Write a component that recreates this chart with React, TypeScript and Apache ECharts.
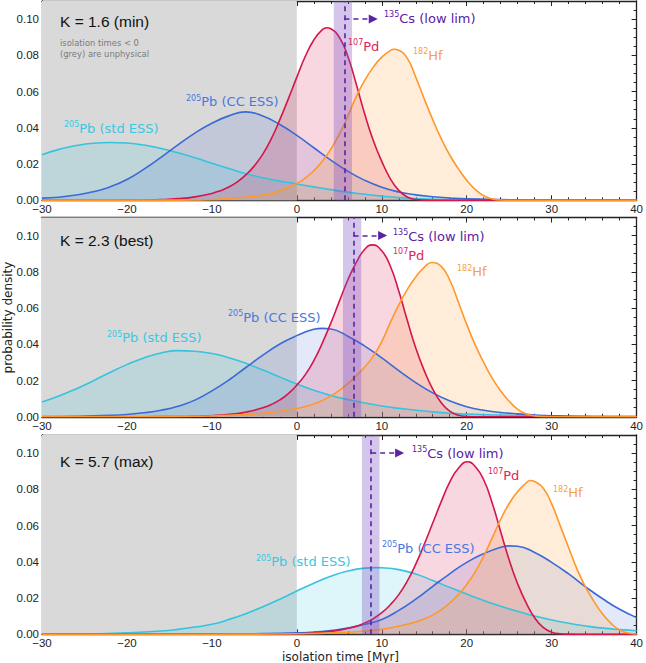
import React, { useEffect, useRef } from "react";
import * as echarts from "echarts";

// ---------- data ----------
const X_MIN = -30;
const X_MAX = 40;
const X_INTERVAL = 10;
const Y_MIN = 0;
const Y_MAX = 0.11;
const Y_INTERVAL = 0.02;

const PANEL_TITLES = ["K = 1.6 (min)", "K = 2.3 (best)", "K = 5.7 (max)"];

// 205Pb (std ESS)
const stdMin = [[-30,0.0252],[-28,0.0281],[-26,0.0302],[-24,0.0315],[-22,0.0319],[-20,0.0316],[-18,0.0305],[-16,0.0286],[-14,0.0262],[-12,0.0235],[-10,0.0205],[-8,0.0175],[-6,0.0147],[-4,0.0124],[-2,0.0106],[0,0.009],[2,0.0074],[4,0.0059],[6,0.0045],[8,0.0033],[10,0.0023],[12,0.0015],[14,0.001],[16,0.0006],[20,0.0003],[25,0.0001],[30,0],[40,0]];
const stdBest = [[-30,0.0082],[-28,0.0115],[-26,0.0154],[-24,0.0198],[-22,0.0245],[-20,0.0288],[-18,0.0325],[-16,0.0352],[-14,0.0365],[-12,0.0362],[-10,0.0349],[-8,0.0326],[-6,0.0295],[-4,0.0258],[-2,0.0219],[0,0.0181],[2,0.0146],[4,0.0118],[6,0.0095],[8,0.0076],[10,0.006],[12,0.0047],[14,0.0036],[16,0.0027],[18,0.002],[20,0.0015],[24,0.0009],[28,0.0005],[32,0.0003],[40,0.0001]];
const stdMax = [[-30,0],[-25,0.0001],[-20,0.0008],[-16,0.0018],[-14,0.0027],[-12,0.004],[-10,0.0055],[-8,0.0082],[-6,0.0114],[-4,0.0152],[-2,0.0194],[0,0.0239],[2,0.0282],[4,0.032],[6,0.0349],[8,0.0365],[9.3,0.0368],[10,0.0367],[12,0.0357],[14,0.0333],[16,0.0297],[18,0.0259],[20,0.0222],[22,0.0187],[24,0.0155],[26,0.0127],[28,0.0101],[30,0.0079],[32,0.0061],[34,0.0046],[36,0.0034],[38,0.0026],[40,0.002]];

// 205Pb (CC ESS)
const ccMin = [[-30,0.0012],[-28,0.0017],[-26,0.0029],[-24,0.0047],[-22,0.0074],[-20,0.0115],[-18,0.0172],[-16,0.0237],[-14,0.0306],[-12,0.0371],[-10,0.0425],[-8,0.0466],[-6,0.0488],[-4,0.0465],[-2,0.0418],[0,0.0358],[2,0.029],[4,0.0222],[6,0.016],[8,0.011],[10,0.0072],[12,0.0046],[14,0.003],[16,0.002],[18,0.0013],[20,0.0008],[24,0.0004],[30,0.0001],[40,0]];
const ccBest = [[-30,0.0001],[-26,0.0003],[-22,0.0008],[-20,0.0013],[-18,0.0022],[-16,0.0036],[-14,0.0058],[-12,0.0092],[-10,0.0143],[-8,0.0203],[-6,0.0272],[-4,0.034],[-2,0.0402],[0,0.0448],[2,0.0483],[3,0.0488],[4,0.0485],[6,0.0445],[8,0.039],[10,0.0325],[12,0.0255],[14,0.0189],[16,0.0132],[18,0.0088],[20,0.0056],[22,0.0036],[24,0.0024],[26,0.0016],[28,0.001],[30,0.0006],[35,0.0002],[40,0.0001]];
const ccMax = [[-30,0],[-10,0.0001],[-4,0.0004],[0,0.0008],[2,0.0012],[4,0.0021],[6,0.0034],[8,0.0055],[10,0.0082],[12,0.0132],[14,0.0194],[16,0.0265],[18,0.0334],[20,0.0397],[22,0.0445],[24,0.048],[25,0.0488],[26,0.0486],[28,0.0452],[30,0.0397],[32,0.0333],[34,0.0262],[36,0.0196],[38,0.0138],[40,0.0092]];

// 107Pd
const pdMin = [[-30,0],[-24,0],[-20,0.0001],[-18,0.0002],[-16,0.0004],[-14,0.0009],[-12,0.0019],[-10,0.0038],[-9,0.0053],[-8,0.0073],[-7,0.0102],[-6,0.014],[-5,0.019],[-4,0.0255],[-3,0.034],[-2,0.0445],[-1,0.056],[0,0.068],[1,0.0795],[2,0.0885],[3,0.0942],[3.55,0.0952],[4,0.0947],[5,0.09],[6,0.0795],[7,0.064],[8,0.0475],[9,0.033],[10,0.0215],[11,0.012],[12,0.0055],[13,0.0018],[14,0.0004],[15,0.0001],[17,0],[40,0]];
const pdBest = [[-30,0],[-20,0],[-16,0.0001],[-13,0.0002],[-11,0.0004],[-9,0.0009],[-7,0.0018],[-6,0.0026],[-5,0.0036],[-4,0.005],[-3,0.0068],[-2,0.0093],[-1,0.0128],[0,0.0175],[1,0.0233],[2,0.031],[3,0.0407],[4,0.0517],[5,0.0637],[6,0.0755],[7,0.0852],[8,0.0925],[8.9,0.0949],[10,0.0916],[11,0.0832],[12,0.0694],[13,0.0533],[14,0.038],[15,0.0255],[16,0.0153],[17,0.0078],[18,0.0031],[19,0.0009],[20,0.0002],[22,0],[40,0]];
const pdMax = [[-30,0],[-10,0],[-4,0.0001],[0,0.0003],[2,0.0008],[4,0.0016],[5,0.0023],[6,0.0033],[7,0.0045],[8,0.0063],[9,0.0086],[10,0.0119],[11,0.0163],[12,0.0219],[13,0.0293],[14,0.0387],[15,0.0497],[16,0.0614],[17,0.0732],[18,0.084],[19,0.0915],[20.1,0.0952],[21,0.0926],[22,0.0853],[23,0.0725],[24,0.0566],[25,0.041],[26,0.0278],[27,0.0173],[28,0.0091],[29,0.0038],[30,0.0012],[31,0.0003],[32,0.0001],[34,0],[40,0]];

// 182Hf
const hfMin = [[-30,0],[-16,0.0001],[-12,0.0002],[-10,0.0004],[-8,0.001],[-6,0.0018],[-4,0.0029],[-2,0.0052],[0,0.0093],[1,0.0123],[2,0.0163],[3,0.0215],[4,0.0282],[5,0.0365],[6,0.0465],[7,0.0572],[8,0.0663],[9,0.0735],[10,0.079],[11,0.0826],[11.4,0.0834],[12,0.0828],[13,0.0785],[14,0.068],[15,0.056],[16,0.0445],[17,0.034],[18,0.025],[19,0.0175],[20,0.011],[21,0.006],[22,0.0025],[23,0.0008],[24,0.0002],[26,0],[40,0]];
const hfBest = [[-30,0],[-16,0.0001],[-12,0.0003],[-10,0.0005],[-8,0.0008],[-6,0.0012],[-4,0.002],[-2,0.0031],[0,0.0046],[1,0.0057],[2,0.0071],[3,0.009],[4,0.0115],[5,0.0146],[6,0.0183],[7,0.0228],[8,0.0275],[9,0.0335],[10,0.0415],[11,0.052],[12,0.0618],[13,0.0702],[14,0.0772],[15,0.0825],[15.9,0.0852],[17,0.083],[18,0.0755],[19,0.0635],[20,0.051],[21,0.0397],[22,0.03],[23,0.0213],[24,0.0142],[25,0.0086],[26,0.0041],[27,0.0015],[28,0.0005],[29,0.0001],[31,0],[40,0]];
const hfMax = [[-30,0],[-10,0],[0,0.0003],[5,0.0009],[8,0.0018],[10,0.0028],[12,0.0045],[14,0.0068],[15,0.0085],[16,0.0106],[17,0.0135],[18,0.0172],[19,0.0218],[20,0.0275],[21,0.0345],[22,0.0432],[23,0.0532],[24,0.0635],[25,0.0722],[26,0.0788],[27,0.0835],[27.45,0.0849],[28,0.0843],[29,0.0808],[30,0.072],[31,0.06],[32,0.0478],[33,0.0358],[34,0.026],[35,0.018],[36,0.0112],[37,0.006],[38,0.0024],[39,0.0007],[40,0.0002]];

// 135Cs lower limit: dashed line, uncertainty band, arrow end
const csLine = [5.6, 6.68, 8.75];
const csBandLow = [4.35, 5.43, 7.66];
const csBandHigh = [6.5, 7.58, 9.73];
const csArrowEnd = [9.0, 10.1, 12.1];
const csArrowY = 0.1;
const unphysical = [-30, 0];

const STD = [stdMin, stdBest, stdMax];
const CC = [ccMin, ccBest, ccMax];
const PD = [pdMin, pdBest, pdMax];
const HF = [hfMin, hfBest, hfMax];

// ---------- styling / layout ----------
const GRID_TOPS = [1, 217.5, 435];
const GRID_H = 199.3;
const AX = "#222";
const SANS = "DejaVu Sans";
const ARIAL = "Liberation Sans";

const C = {
  std: { line: "#35c3dd", fill: "rgba(60,200,222,0.24)", text: "#38c8e2" },
  cc: { line: "#3a6ad6", fill: "rgba(60,105,215,0.21)", text: "#4a78df" },
  pd: { line: "#d4164b", fill: "rgba(220,30,80,0.25)", text: "#e0245c" },
  hf: { line: "#ff982c", fill: "rgba(255,155,50,0.26)", text: "#f7a043" },
  cs: "#5b21a6",
};

// label positions [left px, centre y px] per panel
const LBL = [
  { std: [64, 128], cc: [186, 101.5], pd: [348, 46], hf: [413, 55], cs: [384, 18], k: [60, 21.5] },
  { std: [107, 337.5], cc: [228, 317], pd: [393, 255], hf: [457, 271.5], cs: [393, 236], k: [60, 240.5] },
  { std: [256, 561.5], cc: [382, 548], pd: [488, 475], hf: [553, 492.5], cs: [412, 453], k: [60, 461.5] },
];

function isoText(sup: string, main: string, color: string, pos: number[]) {
  return {
    type: "text",
    x: pos[0],
    y: pos[1],
    silent: true,
    z: 20,
    style: {
      text: `{s|${sup}}{m|${main}}`,
      align: "left",
      verticalAlign: "middle",
      rich: {
        s: { fontSize: 8, fontFamily: SANS, fill: color, verticalAlign: "top", lineHeight: 10 },
        m: { fontSize: 13, fontFamily: SANS, fill: color, lineHeight: 15 },
      },
    },
  };
}

function buildOption() {
  const grid: any[] = [];
  const xAxis: any[] = [];
  const yAxis: any[] = [];
  const series: any[] = [];
  const graphic: any[] = [];

  const tickCommon = {
    axisLine: { show: true, onZero: false, lineStyle: { color: AX, width: 1.3 } },
    axisTick: { show: true, inside: true, length: 5, lineStyle: { color: AX, width: 1 } },
    splitLine: { show: false },
  };

  for (let p = 0; p < 3; p++) {
    grid.push({ left: 42, right: 7, top: GRID_TOPS[p], height: GRID_H });
    const xBase = {
      ...tickCommon,
      type: "value",
      gridIndex: p,
      min: X_MIN,
      max: X_MAX,
      interval: X_INTERVAL,
      minorTick: { show: true, splitNumber: 5, length: 3, lineStyle: { color: AX, width: 1 } },
    };
    xAxis.push({
      ...xBase,
      position: "bottom",
      axisLabel: {
        show: true,
        margin: 3,
        fontSize: 11.5,
        fontFamily: ARIAL,
        color: AX,
        formatter: (v: number) => (v < 0 ? "\u2212" + Math.abs(v) : String(v)),
      },
    });
    xAxis.push({ ...xBase, position: "top", axisLabel: { show: false } });
    const yBase = {
      ...tickCommon,
      type: "value",
      gridIndex: p,
      min: Y_MIN,
      max: Y_MAX,
      interval: Y_INTERVAL,
      minorTick: { show: true, splitNumber: 4, length: 3, lineStyle: { color: AX, width: 1 } },
    };
    yAxis.push({
      ...yBase,
      position: "left",
      axisLabel: {
        show: true,
        margin: 3,
        fontSize: 11.5,
        fontFamily: ARIAL,
        color: AX,
        showMaxLabel: false,
        formatter: (v: number) => v.toFixed(2),
      },
    });
    yAxis.push({ ...yBase, position: "right", axisLabel: { show: false } });

    const ax = { xAxisIndex: 2 * p, yAxisIndex: 2 * p };

    // grey unphysical region
    series.push({
      type: "line",
      ...ax,
      data: [],
      silent: true,
      z: 0,
      markArea: {
        silent: true,
        itemStyle: { color: "#d9d9d9" },
        data: [[{ xAxis: unphysical[0] }, { xAxis: unphysical[1] }]],
      },
    });

    const mk = (data: number[][], c: any) => ({
      type: "line",
      ...ax,
      data,
      smooth: true,
      symbol: "none",
      showSymbol: false,
      silent: true,
      z: 2,
      lineStyle: { color: c.line, width: 1.6 },
      areaStyle: { color: c.fill },
    });
    series.push(mk(STD[p], C.std));
    series.push(mk(CC[p], C.cc));
    series.push(mk(PD[p], C.pd));
    series.push(mk(HF[p], C.hf));

    // Cs band + dashed line
    series.push({
      type: "line",
      ...ax,
      data: [],
      silent: true,
      z: 4,
      markArea: {
        silent: true,
        z: 3,
        itemStyle: { color: "rgba(125,80,195,0.33)" },
        data: [[{ xAxis: csBandLow[p] }, { xAxis: csBandHigh[p] }]],
      },
      markLine: {
        silent: true,
        symbol: ["none", "none"],
        label: { show: false },
        lineStyle: { color: C.cs, type: [5, 4], width: 1.6 },
        data: [{ xAxis: csLine[p] }],
      },
    });
    // arrow
    series.push({
      type: "line",
      ...ax,
      data: [],
      silent: true,
      z: 4,
      markLine: {
        silent: true,
        symbol: ["none", "triangle"],
        symbolSize: [9, 9],
        label: { show: false },
        lineStyle: { color: C.cs, type: [5, 4], width: 1.6 },
        itemStyle: { color: C.cs },
        data: [[{ coord: [csLine[p], csArrowY] }, { coord: [csArrowEnd[p], csArrowY] }]],
      },
    });

    const L = LBL[p];
    graphic.push({
      type: "text",
      x: L.k[0],
      y: L.k[1],
      silent: true,
      z: 20,
      style: { text: PANEL_TITLES[p], fontSize: 15.5, fontFamily: ARIAL, fill: "#111", verticalAlign: "middle", align: "left" },
    });
    graphic.push(isoText("205", "Pb (std ESS)", C.std.text, L.std));
    graphic.push(isoText("205", "Pb (CC ESS)", C.cc.text, L.cc));
    graphic.push(isoText("107", "Pd", C.pd.text, L.pd));
    graphic.push(isoText("182", "Hf", C.hf.text, L.hf));
    graphic.push(isoText("135", "Cs (low lim)", C.cs, L.cs));
  }

  graphic.push({
    type: "text",
    x: 60,
    y: 43,
    silent: true,
    z: 20,
    style: { text: "isolation times < 0", fontSize: 8.4, fontFamily: SANS, fill: "#7a7a7a", verticalAlign: "middle" },
  });
  graphic.push({
    type: "text",
    x: 60,
    y: 54,
    silent: true,
    z: 20,
    style: { text: "(grey) are unphysical", fontSize: 8.4, fontFamily: SANS, fill: "#7a7a7a", verticalAlign: "middle" },
  });
  graphic.push({
    type: "text",
    x: 340.5,
    y: 656.5,
    silent: true,
    style: { text: "isolation time [Myr]", fontSize: 12, fontFamily: SANS, fill: AX, align: "center", verticalAlign: "middle" },
  });
  graphic.push({
    type: "text",
    x: 8,
    y: 317.5,
    rotation: Math.PI / 2,
    silent: true,
    style: { text: "probability density", fontSize: 12, fontFamily: SANS, fill: AX, align: "center", verticalAlign: "middle" },
  });

  return {
    animation: false,
    backgroundColor: "#ffffff",
    grid,
    xAxis,
    yAxis,
    series,
    graphic,
  };
}

export default function App() {
  const ref = useRef<HTMLDivElement>(null);
  useEffect(() => {
    if (!ref.current) return;
    const chart = echarts.init(ref.current, null, { renderer: "svg" });
    chart.setOption(buildOption() as any);
    return () => chart.dispose();
  }, []);
  return (
    <div
      ref={ref}
      style={{ position: "absolute", left: 0, top: 0, width: 646, height: 663 }}
    />
  );
}
